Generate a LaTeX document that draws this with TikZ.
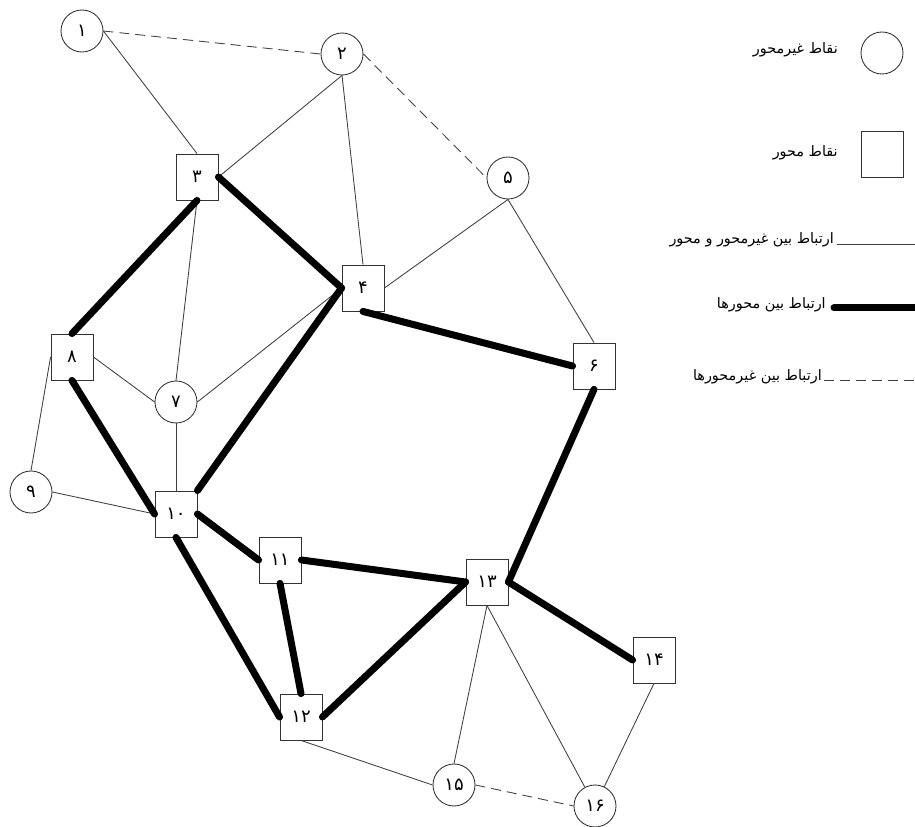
\documentclass[tikz,border=0pt]{standalone}
\usepackage{fontspec}
\newfontfamily\arabicfont[Script=Arabic]{DejaVu Sans}
\TeXXeTstate=1
\begin{document}
\begin{tikzpicture}[x=0.75pt,y=-0.75pt,
  nonaxis/.style={circle,draw=black!80,line width=0.65pt,minimum size=31.5pt,inner sep=0pt,font=\arabicfont\fontsize{13.5}{15}\selectfont},
  axis/.style={rectangle,draw=black!80,line width=0.65pt,minimum width=31.5pt,minimum height=34.5pt,inner sep=0pt,font=\arabicfont\fontsize{13.5}{15}\selectfont},
  thinlink/.style={draw=black!75,line width=0.65pt},
  thicklink/.style={draw=black,line width=5.25pt,line cap=round},
  dashlink/.style={draw=black!75,line width=0.65pt,dash pattern=on 7.5pt off 4.5pt},
  legtext/.style={anchor=east,inner sep=0pt,font=\arabicfont\fontsize{10.8}{12}\selectfont}]
\useasboundingbox (0,0) rectangle (915,827);
% nodes
\node[nonaxis] (n1) at (82,31) {۱};
\node[nonaxis] (n2) at (342,54) {۲};
\node[axis] (n3) at (197,177) {۳};
\node[axis] (n4) at (363,288) {۴};
\node[nonaxis] (n5) at (508,178) {۵};
\node[axis] (n6) at (594,366) {۶};
\node[nonaxis] (n7) at (176,402) {۷};
\node[axis] (n8) at (72,357) {۸};
\node[nonaxis] (n9) at (31,492) {۹};
\node[axis] (n10) at (176,514) {۱۰};
\node[axis] (n11) at (280,560) {۱۱};
\node[axis] (n12) at (301,717) {۱۲};
\node[axis] (n13) at (487,582) {۱۳};
\node[axis] (n14) at (654,660) {۱۴};
\node[nonaxis] (n15) at (454,785) {۱۵};
\node[nonaxis] (n16) at (595,806) {۱۶};
% thin links
\draw[thinlink] (n1.east) -- (n3.north);
\draw[thinlink] (n2.south) -- (n3.east);
\draw[thinlink] (n2.south) -- (n4.north);
\draw[thinlink] (n3.south) -- (n7.north);
\draw[thinlink] (n4.east) -- (n5.south);
\draw[thinlink] (n5.south) -- (n6.north);
\draw[thinlink] (n4.west) -- (n7.east);
\draw[thinlink] (n8.east) -- (n7.west);
\draw[thinlink] (n7.south) -- (n10.north);
\draw[thinlink] (n8.west) -- (n9.north);
\draw[thinlink] (n9.east) -- (n10.west);
\draw[thinlink] (n12.south) -- (n15.west);
\draw[thinlink] (n13.south) -- (n15.north);
\draw[thinlink] (n13.south) -- (n16);
\draw[thinlink] (n14.south) -- (n16);
% dashed links
\draw[dashlink] (n1.east) -- (n2.west);
\draw[dashlink] (n2.east) -- (n5.west);
\draw[dashlink] (n15.east) -- (n16.west);
% thick links
\draw[thicklink] (n3.south) -- (n8.north);
\draw[thicklink] (n3.east) -- (n4.west);
\draw[thicklink] (n4.west) -- (n10.north east);
\draw[thicklink] (n4.south) -- (n6.west);
\draw[thicklink] (n6.south) -- (n13.east);
\draw[thicklink] (n13.east) -- (n14.west);
\draw[thicklink] (n8.south) -- (n10.west);
\draw[thicklink] (n10.east) -- (n11.west);
\draw[thicklink] (n10.south) -- (n12.west);
\draw[thicklink] (n11.east) -- (n13.west);
\draw[thicklink] (n11.south) -- (n12.north);
\draw[thicklink] (n12.east) -- (n13.west);
% legend
\node[nonaxis] (lc) at (882,53) {};
\node[legtext] (lct) at (838,50) {\beginR نقاط غیرمحور\endR};
\node[axis] (ls) at (882,154) {};
\node[legtext] (lst) at (838,153) {\beginR نقاط محور\endR};
\coordinate (la1) at (837,244);
\coordinate (la2) at (915,244);
\draw[thinlink] (la1) -- (la2);
\node[legtext] (lat) at (834,240) {\beginR ارتباط بین غیرمحور و محور\endR};
\coordinate (lb1) at (834,308);
\coordinate (lb2) at (918,308);
\draw[thicklink] (lb1) -- (lb2);
\node[legtext] (lbt) at (826,305) {\beginR ارتباط بین محورها\endR};
\coordinate (lcc1) at (824,380);
\coordinate (lcc2) at (915,380);
\draw[dashlink] (lcc1) -- (lcc2);
\node[legtext] (lcct) at (822,377) {\beginR ارتباط بین غیرمحورها\endR};
\end{tikzpicture}
\end{document}
